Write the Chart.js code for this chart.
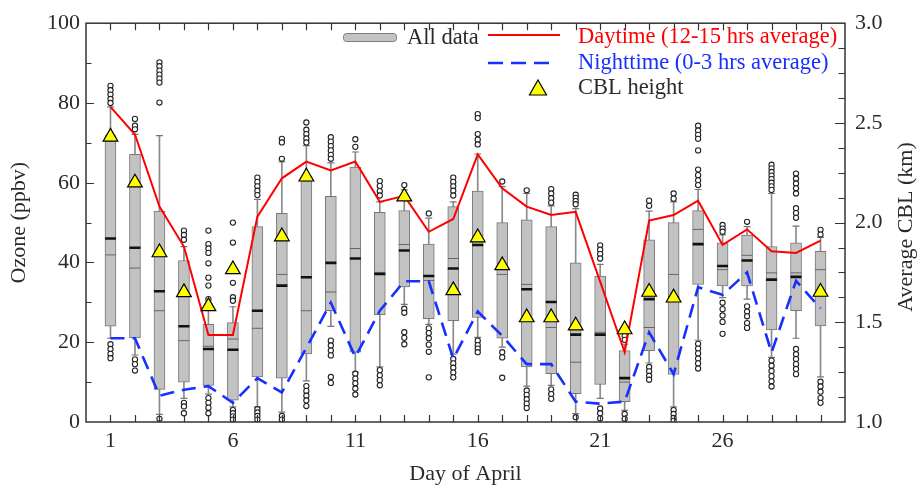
<!DOCTYPE html>
<html><head><meta charset="utf-8">
<script src="https://cdn.jsdelivr.net/npm/chart.js@4/dist/chart.umd.min.js"></script>
<style>html,body{margin:0;padding:0;background:#fff}#wrap{width:917px;height:487px}</style>
</head><body><div id="wrap"><canvas id="c" width="917" height="487"></canvas></div>
<script>
// ---------- data ----------
const days = [1,2,3,4,5,6,7,8,9,10,11,12,13,14,15,16,17,18,19,20,21,22,23,24,25,26,27,28,29,30];
const xTickLabels = [1,6,11,16,21,26];
const q1 = [24.0,21.1,8.2,10.0,9.2,5.5,11.3,11.0,17.1,27.9,17.5,26.9,33.9,25.9,25.4,26.2,21.0,13.8,12.1,7.1,9.4,5.1,17.9,11.9,34.5,34.1,34.1,23.1,27.9,24.1];
const q3 = [71.8,67.1,52.9,40.5,24.5,24.9,49.0,52.3,60.5,56.6,63.9,52.6,53.0,44.6,54.0,57.9,50.0,50.7,49.0,39.9,36.6,17.9,45.7,50.0,53.0,44.9,46.9,44.0,44.9,42.8];
const median = [46.0,43.7,32.8,24.0,18.3,18.1,27.9,34.2,36.3,39.9,41.0,37.1,43.0,36.6,38.5,44.4,38.6,33.3,30.1,21.9,21.9,11.0,30.8,31.2,44.6,39.1,40.5,35.7,36.4,32.4];
const mean = [41.9,38.6,27.9,20.4,19.0,20.8,23.5,37.0,27.9,32.6,43.5,37.5,44.5,35.5,41.0,45.5,37.0,34.5,23.7,15.0,22.5,10.0,23.7,37.0,48.3,38.2,41.8,37.4,37.4,38.2];
const whiskerHigh = [79.0,72.1,71.8,44.0,29.0,28.9,55.8,65.2,69.3,65.0,67.7,55.2,58.2,51.1,55.2,67.2,59.0,57.3,54.2,53.5,39.5,19.5,52.9,55.2,58.3,46.9,49.0,57.3,49.1,46.3];
const whiskerLow = [21.0,16.8,1.9,5.9,7.0,3.8,3.8,2.5,10.3,24.0,12.5,13.8,29.5,24.5,17.0,21.2,18.8,9.0,9.2,2.1,5.9,2.9,14.8,3.8,20.5,31.2,30.8,16.2,21.0,11.3];
const outliers = [
  [84.3,83.2,82.1,81.0,80.0,19.5,18.3,17.1,16.0],
  [76.0,74.3,73.4,15.7,14.5,12.9],
  [90.2,89.2,88.1,87.1,86.1,85.1,80.1,0.8],
  [48.0,46.9,45.7,4.8,3.9,2.2],
  [48.0,44.6,43.5,42.4,39.8,36.2,34.2,30.8,6.0,4.8,3.6,2.2],
  [50.0,45.0,34.9,31.3,30.4,3.0,2.2,1.4,0.6],
  [61.3,60.2,59.1,58.0,56.9,3.2,2.4,1.5,0.6],
  [71.0,70.1,66.0,1.5,0.6],
  [75.1,73.3,72.2,71.1,70.1,9.0,7.8,6.6,5.4,4.0],
  [71.4,70.3,69.2,68.1,67.0,66.0,20.4,19.2,17.9,16.7,11.3,9.8],
  [70.9,69.0,12.1,10.9,9.7,8.4,6.9],
  [60.4,59.2,57.9,56.8,13.0,11.7,10.5,9.2],
  [59.4,28.4,27.4,22.5,21.1,19.5],
  [52.3,23.5,22.3,21.0,19.4,17.6,11.2],
  [61.3,60.2,59.1,58.0,56.8,15.8,14.7,13.6,12.4,11.2],
  [77.2,76.2,72.2,70.8,69.6,20.4,19.3,18.4,17.5],
  [60.3,17.5,16.2,11.1],
  [58.1,7.9,6.8,5.7,4.6,3.5],
  [58.4,57.3,56.1,55.0,8.2,7.0,5.8],
  [57.0,56.2,55.4,54.6,1.2],
  [44.3,43.2,42.1,41.0,3.4,2.2,0.9],
  [21.6,20.6,2.0,0.8],
  [55.5,54.2,13.8,12.7,11.6,10.6],
  [57.3,56.0,3.0,2.0,1.0,0.3],
  [74.3,73.1,72.0,71.0,68.1,63.3,61.9,60.6,59.4,19.6,18.4,17.2,15.9,14.7,13.4],
  [49.4,48.5,47.7,29.9,28.3,26.7,25.1,22.1],
  [50.2,29.0,27.7,26.5,24.8,23.6],
  [64.5,63.6,62.7,61.8,60.9,60.0,59.1,58.2,15.4,14.1,12.8,11.5,10.2,8.9],
  [62.3,61.0,59.8,58.6,57.3,53.6,52.4,51.2,18.3,17.0,15.8,14.5,13.3,12.0],
  [48.2,47.0,10.1,8.9,7.6,6.0,4.8]
];
const dayAvg = [79.0,72.1,54.0,44.0,21.8,21.8,51.5,61.1,65.3,63.1,65.3,55.2,56.7,47.7,50.9,67.1,58.6,54.0,51.9,52.7,35.2,17.5,50.5,51.9,55.5,44.4,48.3,42.8,42.4,45.5];
const nightAvg = [21.0,21.0,6.6,8.1,9.0,4.8,11.0,7.4,18.6,29.9,16.3,27.9,35.3,35.3,15.9,27.7,21.6,14.5,14.5,5.1,4.6,5.1,22.5,12.0,33.8,31.9,37.5,17.4,35.4,28.5];
const cblHeight = [2.43,2.20,1.85,1.65,1.58,1.765,null,1.93,2.23,null,null,null,2.13,null,1.66,1.925,1.785,1.524,1.524,1.483,null,1.464,1.652,1.623,null,null,null,null,null,1.652];

// ---------- build ----------
const F = '"Liberation Serif", "Times New Roman", serif';
const TXT = '#2a2a2a';
const xy = arr => days.map((d,i)=>arr[i]==null?null:{x:d,y:arr[i]}).filter(p=>p);
const outlierPts = days.flatMap((d,i)=>outliers[i].map(v=>({x:d,y:v})));

const framePlugin = {
  id:'frame',
  afterDatasetsDraw(chart){
    const {ctx, chartArea:a, scales} = chart;
    ctx.save();
    ctx.strokeStyle = '#333'; ctx.lineWidth = 1.5;
    ctx.strokeRect(a.left, a.top, a.right-a.left, a.bottom-a.top);
    ctx.lineWidth = 1.2;
    ctx.beginPath();
    days.forEach(d=>{
      const px = Math.round(scales.x.getPixelForValue(d))+0.5;
      ctx.moveTo(px, a.bottom); ctx.lineTo(px, a.bottom-7);
      ctx.moveTo(px, a.top); ctx.lineTo(px, a.top+7);
    });
    for(let v=10; v<100; v+=10){
      const py = Math.round(scales.y.getPixelForValue(v))+0.5;
      ctx.moveTo(a.left, py); ctx.lineTo(a.left + (v%20===0?8:5.5), py);
    }
    for(let k=1; k<16; k++){
      const v = 1 + k*0.125;
      const py = Math.round(scales.y2.getPixelForValue(v))+0.5;
      ctx.moveTo(a.right, py); ctx.lineTo(a.right - (k%4===0?10:6.5), py);
    }
    ctx.stroke();
    // right axis title
    ctx.fillStyle = TXT; ctx.font = '22px ' + F;
    ctx.textAlign='center'; ctx.textBaseline='middle';
    ctx.translate(906, 227); ctx.rotate(-Math.PI/2);
    ctx.fillText('Average CBL (km)', 0, 0);
    ctx.restore();

    // legend
    ctx.save();
    ctx.font = '22.5px ' + F; ctx.textBaseline='middle'; ctx.textAlign='left';
    ctx.fillStyle='#c4c4c4'; ctx.strokeStyle='#7c7c7c'; ctx.lineWidth=1;
    ctx.beginPath(); ctx.roundRect(343.5,33.5,53,8,3); ctx.fill(); ctx.stroke();
    ctx.fillStyle=TXT; ctx.fillText('All data', 407, 38);
    ctx.strokeStyle='#ff0000'; ctx.lineWidth=2;
    ctx.beginPath(); ctx.moveTo(488,35); ctx.lineTo(560,35); ctx.stroke();
    ctx.fillStyle='#ff0000'; ctx.fillText('Daytime (12-15 hrs average)', 578, 37);
    ctx.strokeStyle='#1530ff'; ctx.lineWidth=2.5; ctx.setLineDash([15,8]);
    ctx.beginPath(); ctx.moveTo(488,63); ctx.lineTo(553,63); ctx.stroke();
    ctx.setLineDash([]);
    ctx.fillStyle='#1530ff'; ctx.fillText('Nighttime (0-3 hrs average)', 578, 63);
    ctx.fillStyle='#ffff00'; ctx.strokeStyle='#000'; ctx.lineWidth=1.2;
    ctx.beginPath();
    ctx.moveTo(538, 80); ctx.lineTo(546.5, 95); ctx.lineTo(529.5, 95); ctx.closePath();
    ctx.fill(); ctx.stroke();
    ctx.fillStyle=TXT; ctx.fillText('CBL height', 578, 88);
    ctx.restore();
  }
};

new Chart(document.getElementById('c'), {
  type:'bar',
  data:{ datasets:[
    {type:'line', label:'CBL height', data:xy(cblHeight), yAxisID:'y2', showLine:false,
     pointStyle:'triangle', pointRadius:8.5, pointBackgroundColor:'#ffff00', pointBorderColor:'#000', pointBorderWidth:1.2, order:0},
    {type:'line', label:'Daytime', data:xy(dayAvg), borderColor:'#ff0000', borderWidth:2, pointRadius:0, tension:0, fill:false, order:1},
    {type:'line', label:'Nighttime', data:xy(nightAvg), borderColor:'#1530ff', borderWidth:2.6, borderDash:[14,8], pointRadius:0, tension:0, fill:false, order:2},
    {type:'line', label:'outliers', data:outlierPts, showLine:false, pointStyle:'circle', pointRadius:2.6,
     pointBorderWidth:1.1, pointBorderColor:'#222', pointBackgroundColor:'#fff', order:3},
    {type:'line', label:'median', data:xy(median), showLine:false, pointStyle:'line', pointRadius:5.5,
     pointBorderWidth:2.6, pointBorderColor:'#111', order:4},
    {type:'line', label:'mean', data:xy(mean), showLine:false, pointStyle:'line', pointRadius:5.5,
     pointBorderWidth:1, pointBorderColor:'#666', order:5},
    {type:'bar', label:'All data', data:days.map((d,i)=>({x:d,y:[q1[i],q3[i]]})), barThickness:11, grouped:false,
     backgroundColor:'#c2c2c2', borderColor:'#777', borderWidth:1, borderSkipped:false, order:6},
    {type:'line', label:'capHi', data:xy(whiskerHigh), showLine:false, pointStyle:'line', pointRadius:3.5,
     pointBorderWidth:1.2, pointBorderColor:'#777', order:7},
    {type:'line', label:'capLo', data:xy(whiskerLow), showLine:false, pointStyle:'line', pointRadius:3.5,
     pointBorderWidth:1.2, pointBorderColor:'#777', order:7},
    {type:'bar', label:'whisker', data:days.map((d,i)=>({x:d,y:[whiskerLow[i],whiskerHigh[i]]})), barThickness:1, grouped:false,
     backgroundColor:'#8a8a8a', borderWidth:0, order:8}
  ]},
  options:{
    responsive:false, animation:false, events:[],
    layout:{padding:{top:20,left:0,right:0,bottom:0}},
    plugins:{legend:{display:false}, tooltip:{enabled:false}},
    scales:{
      x:{type:'linear', min:0, max:31, offset:false, grid:{display:false, drawTicks:false}, border:{display:false},
         ticks:{stepSize:1, autoSkip:false, maxRotation:0, padding:6, color:TXT, font:{family:F,size:22},
                callback:v=>xTickLabels.includes(v)?String(v):''},
         title:{display:true, text:'Day of April', color:TXT, font:{family:F,size:22}, padding:{top:0,bottom:0}},
         afterFit:s=>{s.height=65;}},
      y:{position:'left', min:0, max:100, grid:{display:false, drawTicks:false}, border:{display:false},
         ticks:{stepSize:20, padding:6, color:TXT, font:{family:F,size:22}},
         title:{display:true, text:'Ozone (ppbv)', color:TXT, font:{family:F,size:22}, padding:{top:6,bottom:0}},
         afterFit:s=>{s.width=86;}},
      y2:{position:'right', min:1, max:3, grid:{display:false, drawTicks:false}, border:{display:false},
         ticks:{stepSize:0.5, padding:10, color:TXT, font:{family:F,size:22}, callback:v=>v.toFixed(1)},
         afterFit:s=>{s.width=72;}}
    }
  },
  plugins:[framePlugin]
});
</script></body></html>
